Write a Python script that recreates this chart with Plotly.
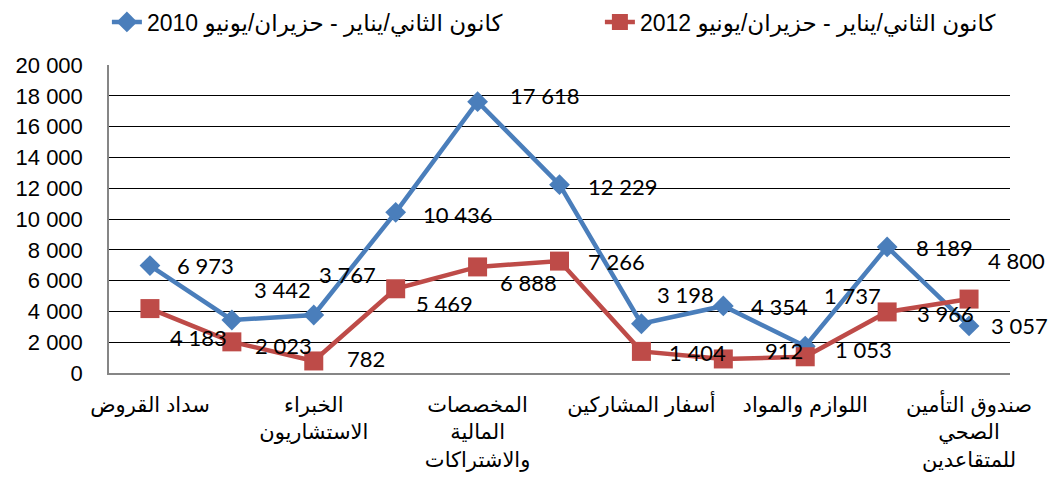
import plotly.graph_objects as go

C_BLUE = '#4a7ebb'
C_RED = '#be4b48'
C_GRID = '#000000'
C_AXIS = '#868686'

# data
positions = list(range(11))
values_2010 = [6973, 3442, 3767, 10436, 17618, 12229, 3198, 4354, 1737, 8189, 3057]
values_2012 = [4183, 2023, 782, 5469, 6888, 7266, 1404, 912, 1053, 3966, 4800]
name_2010 = 'كانون الثاني/يناير - حزيران/يونيو 2010'
name_2012 = 'كانون الثاني/يناير - حزيران/يونيو 2012'
tick_positions = [0, 2, 4, 6, 8, 10]
tick_labels = [
    'سداد القروض',
    'الخبراء<br>الاستشاريون',
    'المخصصات<br>المالية<br>والاشتراكات',
    'أسفار المشاركين',
    'اللوازم والمواد',
    'صندوق التأمين<br>الصحي<br>للمتقاعدين',
]
y_ticks = list(range(0, 20001, 2000))

# label offsets in px: left edge right of the point, and dy down
off_2010 = [(25, 0), (20, -30), (3, -40), (25, 2), (30, -6), (26, 2),
            (14, -29), (26, 1), (17, -51), (27, 1), (20, 0)]
off_2012 = [(18, 29), (21, 4), (31, -2), (18, 15), (20, 16), (26, 0),
            (26, 1), (40, -8), (28, -7), (28, 2), (17, -39)]


def fmt(v):
    return f'{v:,}'.replace(',', ' ')


fig = go.Figure()

fig.add_trace(go.Scatter(
    x=positions, y=values_2010, mode='lines+markers', name=name_2010,
    line=dict(color=C_BLUE, width=4.5),
    marker=dict(symbol='diamond', size=16, color=C_BLUE),
))
fig.add_trace(go.Scatter(
    x=positions, y=values_2012, mode='lines+markers', name=name_2012,
    line=dict(color=C_RED, width=4.5),
    marker=dict(symbol='square', size=19, color=C_RED),
    legendwidth=365,
))

for vals, offs in ((values_2010, off_2010), (values_2012, off_2012)):
    for x, v, (dx, dy) in zip(positions, vals, offs):
        fig.add_annotation(
            x=x, y=v, text=fmt(v), showarrow=False,
            xanchor='left', xshift=dx, yshift=-dy,
            font=dict(family='Lato, sans-serif', size=22, color='#000'),
        )

# page body has an 8px margin, so the figure is a bit smaller than the window
fig.update_layout(
    width=1041, height=466,
    paper_bgcolor='white', plot_bgcolor='white',
    margin=dict(l=101, r=39, t=57, b=101, autoexpand=False),
    font=dict(family='Liberation Sans, DejaVu Sans, sans-serif', color='#000'),
    showlegend=True,
    legend=dict(
        orientation='h', xref='container', yref='container',
        x=0.095, xanchor='left', y=0.97, yanchor='middle',
        font=dict(size=23), bgcolor='rgba(0,0,0,0)',
        entrywidth=448, entrywidthmode='pixels',
    ),
    xaxis=dict(
        range=[-0.5, 10.5], tickvals=tick_positions, ticktext=tick_labels,
        showgrid=False, zeroline=False, automargin=False,
        showline=True, linecolor=C_AXIS, linewidth=1.5,
        ticks='outside', ticklen=12, tickcolor='rgba(0,0,0,0)',
        tickfont=dict(size=21),
    ),
    yaxis=dict(
        range=[0, 20000], tickvals=y_ticks,
        ticktext=[fmt(v) for v in y_ticks],
        showgrid=True, gridcolor=C_GRID, gridwidth=1.3,
        zeroline=False, showline=True, linecolor=C_AXIS, linewidth=1.5,
        ticks='outside', ticklen=20, tickcolor='rgba(0,0,0,0)',
        tickfont=dict(size=22), automargin=False,
    ),
)

fig.write_html('out.html')
